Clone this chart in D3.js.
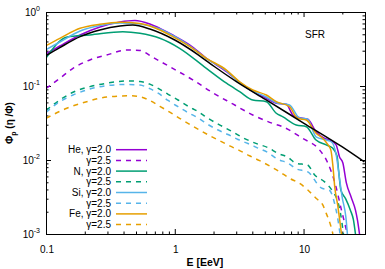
<!DOCTYPE html>
<html>
<head>
<meta charset="utf-8">
<script src="https://cdn.jsdelivr.net/npm/d3@7"></script>
<style>
body{margin:0;background:#fff}
svg text{font-family:"Liberation Sans",Arial,sans-serif;fill:#000}
</style>
</head>
<body>
<svg id="chart"></svg>
<script>

// [E in EeV, flux] pairs
var heG20 = [[0.1,0.271],[0.128,0.347],[0.184,0.489],[0.262,0.627],[0.375,0.733],[0.49,0.768],[0.64,0.689],[0.766,0.602],[0.964,0.489],[1.31,0.358],[1.76,0.237],[2.52,0.156],[3.19,0.112],[4.05,0.0838],[5.14,0.0682],[6.14,0.0584],[7.34,0.0566],[8.26,0.0406],[9.04,0.0378],[10.8,0.0355],[12.5,0.0241],[14.6,0.0196],[15.9,0.0186],[17.9,0.016],[19.0,0.0111],[20.2,0.0091],[21.5,0.0049],[23.4,0.00316],[25.3,0.0021],[26.2,0.00155],[27.2,0.001]]
var heG25 = [[0.1,0.0925],[0.128,0.127],[0.162,0.173],[0.219,0.225],[0.296,0.262],[0.423,0.306],[0.536,0.302],[0.675,0.244],[0.964,0.173],[1.38,0.121],[1.97,0.0812],[2.82,0.0572],[4.03,0.0406],[5.75,0.0313],[6.87,0.0282],[9.82,0.0196],[13.3,0.0137],[15.3,0.0094],[17.7,0.0046],[19.7,0.0021],[21.9,0.001]]
var nG20 = [[0.1,0.239],[0.146,0.459],[0.219,0.489],[0.395,0.542],[0.536,0.516],[0.766,0.441],[1.09,0.323],[1.76,0.173],[2.52,0.109],[3.19,0.0838],[4.03,0.0647],[5.14,0.0614],[6.14,0.0428],[6.87,0.0385],[8.77,0.0297],[10.5,0.0282],[12.5,0.0186],[15.0,0.016],[16.8,0.0145],[18.2,0.0113],[18.7,0.0073],[19.5,0.0039],[21.2,0.003],[23.1,0.0021],[24.4,0.00155],[25.3,0.001]]
var nG25 = [[0.1,0.0467],[0.128,0.0647],[0.162,0.0822],[0.219,0.098],[0.296,0.109],[0.423,0.117],[0.536,0.115],[0.64,0.106],[0.743,0.093],[0.887,0.0773],[1.06,0.0647],[1.27,0.0532],[1.52,0.045],[1.81,0.0366],[2.17,0.0306],[2.59,0.026],[3.59,0.019],[4.42,0.0164],[5.29,0.0147],[6.32,0.0123],[7.55,0.0109],[8.77,0.009],[10.7,0.0086],[12.2,0.00627],[14.5,0.0051],[16.9,0.00373],[18.5,0.0027],[19.4,0.00186],[20.4,0.001]]
var siG20 = [[0.1,0.31],[0.128,0.393],[0.184,0.554],[0.262,0.657],[0.375,0.71],[0.536,0.689],[0.766,0.589],[0.964,0.481],[1.31,0.347],[1.76,0.235],[2.52,0.16],[3.19,0.111],[4.03,0.0856],[5.14,0.071],[6.14,0.0595],[7.78,0.0554],[9.3,0.037],[10.7,0.0358],[12.5,0.0206],[15.0,0.0186],[16.5,0.0175],[18.0,0.0113],[19.0,0.0057],[20.0,0.00306],[21.3,0.0017],[21.9,0.001]]
var siG25 = [[0.1,0.0441],[0.128,0.0614],[0.162,0.0755],[0.219,0.091],[0.296,0.101],[0.423,0.105],[0.536,0.103],[0.64,0.092],[0.743,0.08],[0.887,0.0637],[1.06,0.0525],[1.27,0.0436],[1.52,0.037],[1.81,0.0302],[2.17,0.0254],[2.59,0.0221],[3.1,0.0189],[3.7,0.0167],[4.42,0.0145],[5.29,0.0126],[6.32,0.0102],[7.55,0.0091],[8.77,0.0076],[10.8,0.0069],[13.7,0.0042],[15.9,0.0039],[17.4,0.0026],[18.5,0.00155],[19.2,0.001]]
var feG20 = [[0.1,0.351],[0.128,0.441],[0.184,0.602],[0.262,0.682],[0.375,0.726],[0.536,0.699],[0.766,0.571],[0.964,0.464],[1.31,0.34],[1.76,0.237],[2.52,0.164],[3.19,0.114],[4.03,0.0883],[5.14,0.0755],[6.14,0.0614],[7.78,0.0525],[8.97,0.0366],[10.5,0.0347],[12.5,0.023],[14.0,0.0198],[15.3,0.0165],[16.3,0.0136],[16.9,0.0083],[17.5,0.0042],[18.4,0.00247],[19.0,0.00164],[19.7,0.001]]
var feG25 = [[0.1,0.0366],[0.145,0.05],[0.207,0.0614],[0.296,0.071],[0.448,0.0737],[0.536,0.0717],[0.64,0.0637],[0.766,0.0532],[0.914,0.0443],[1.09,0.0366],[1.31,0.0302],[1.56,0.0254],[1.87,0.0213],[2.23,0.0182],[2.67,0.0155],[3.19,0.0134],[3.81,0.0114],[4.56,0.0098],[5.45,0.0083],[6.51,0.00695],[7.78,0.00566],[9.3,0.00484],[10.8,0.00393],[12.5,0.00304],[14.1,0.00247],[15.0,0.0019],[16.2,0.00132],[16.9,0.001]]
var sfrRef = [[0.1,0.257],[0.128,0.33],[0.184,0.464],[0.262,0.571],[0.375,0.647],[0.472,0.667],[0.64,0.589],[1.0,0.418],[1.53,0.262],[2.04,0.182],[3.05,0.113],[5.05,0.066],[10,0.0316],[20,0.015],[29.7,0.0094]]

var legendLabels = ["He, γ=2.0","γ=2.5","N, γ=2.0","γ=2.5","Si, γ=2.0","γ=2.5","Fe, γ=2.0","γ=2.5"]
var xMajor = [0.1, 1, 10]
var yMajor = [0.001, 0.01, 0.1, 1]
var yExp = ["-3","-2","-1","0"]

var width = 385
var height = 269

var svg = d3.select('#chart')
            .attr('width', width)
            .attr('height', height)

var x = d3.scaleLog().domain([0.1, 30]).range([46, 365])
var y = d3.scaleLog().domain([0.001, 1]).range([234, 12])

// minor tick values for the log axes
var xMinor = []
var yMinor = []
;[0.1, 1, 10].forEach(function(b){
  for (var k = 2; k <= 9; k++){ if (b*k <= 30) xMinor.push(b*k) }
})
;[0.001, 0.01, 0.1].forEach(function(b){
  for (var k = 2; k <= 9; k++){ yMinor.push(b*k) }
})

var series = [
  {data: heG20, color: "#9400d3", dash: null},
  {data: heG25, color: "#9400d3", dash: "5,5"},
  {data: nG20,  color: "#009e73", dash: null},
  {data: nG25,  color: "#009e73", dash: "5,5"},
  {data: siG20, color: "#56b4e9", dash: null},
  {data: siG25, color: "#56b4e9", dash: "5,5"},
  {data: feG20, color: "#e69f00", dash: null},
  {data: feG25, color: "#e69f00", dash: "5,5"}
]

svg.append('defs').append('clipPath').attr('id','clip')
   .append('rect').attr('x',46).attr('y',12).attr('width',319).attr('height',222)

// axes: ticks point inward on all four sides
function addAxis(axis, tr){
  var g = svg.append('g').attr('transform', tr).call(axis)
  g.select('.domain').remove()
  g.selectAll('line').attr('stroke','#000')
  return g
}
addAxis(d3.axisBottom(x).tickValues(xMajor).tickSize(-5).tickFormat(''), 'translate(0,234)')
addAxis(d3.axisBottom(x).tickValues(xMinor).tickSize(-2.5).tickFormat(''), 'translate(0,234)')
addAxis(d3.axisTop(x).tickValues(xMajor).tickSize(-5).tickFormat(''), 'translate(0,12)')
addAxis(d3.axisTop(x).tickValues(xMinor).tickSize(-2.5).tickFormat(''), 'translate(0,12)')
addAxis(d3.axisLeft(y).tickValues(yMajor).tickSize(-5).tickFormat(''), 'translate(46,0)')
addAxis(d3.axisLeft(y).tickValues(yMinor).tickSize(-2.5).tickFormat(''), 'translate(46,0)')
addAxis(d3.axisRight(y).tickValues(yMajor).tickSize(-5).tickFormat(''), 'translate(365,0)')
addAxis(d3.axisRight(y).tickValues(yMinor).tickSize(-2.5).tickFormat(''), 'translate(365,0)')

// tick labels
svg.append('g').selectAll('text').data(xMajor).enter().append('text')
   .attr('x', function(d){ return x(d) + 1 })
   .attr('y', 253)
   .attr('text-anchor','middle')
   .attr('font-size', 10)
   .text(function(d){ return d })

var yl = svg.append('g').selectAll('text').data(yMajor).enter().append('text')
   .attr('x', 40)
   .attr('y', function(d){ return y(d) + 3.5 })
   .attr('text-anchor','end')
   .attr('font-size', 10)
yl.append('tspan').text('10')
yl.append('tspan').attr('dy', -4.5).attr('font-size', 7)
  .text(function(d,i){ return yExp[i] })

// curves
var line = d3.line()
             .x(function(d){ return x(d[0]) })
             .y(function(d){ return y(d[1]) })
             .curve(d3.curveMonotoneX)

var plot = svg.append('g').attr('clip-path','url(#clip)')

series.forEach(function(s){
  plot.append('path')
      .attr('d', line(s.data))
      .attr('fill','none')
      .attr('stroke', s.color)
      .attr('stroke-width', 1.5)
      .attr('stroke-dasharray', s.dash)
})

plot.append('path')
    .attr('d', line(sfrRef))
    .attr('fill','none')
    .attr('stroke','#000')
    .attr('stroke-width', 1.5)

// frame
svg.append('rect')
   .attr('x', 46.5).attr('y', 12.5)
   .attr('width', 319).attr('height', 222)
   .attr('fill','none').attr('stroke','#000').attr('stroke-width',1)

// legend
var leg = svg.append('g')
series.forEach(function(s,i){
  var ly = 149.7 + i*10.7
  leg.append('text')
     .attr('x', 111).attr('y', ly + 3.5)
     .attr('text-anchor','end')
     .attr('font-size', 10)
     .text(legendLabels[i])
  leg.append('line')
     .attr('x1', 116).attr('x2', 147)
     .attr('y1', ly).attr('y2', ly)
     .attr('stroke', s.color)
     .attr('stroke-width', 1.5)
     .attr('stroke-dasharray', s.dash)
})

svg.append('text')
   .attr('x', 315).attr('y', 38)
   .attr('text-anchor','middle')
   .attr('font-size', 10)
   .text('SFR')

// axis titles
svg.append('text')
   .attr('x', 205).attr('y', 266)
   .attr('text-anchor','middle')
   .attr('font-size', 10.5)
   .attr('font-weight','bold')
   .text('E [EeV]')

var yt = svg.append('text')
   .attr('transform','translate(13,123) rotate(-90)')
   .attr('text-anchor','middle')
   .attr('font-size', 10)
   .attr('font-weight','bold')
yt.append('tspan').text('Φ')
yt.append('tspan').attr('font-size', 7).attr('dy', 2.5).text('p')
yt.append('tspan').attr('dy', -2.5).text(' (η /Φ)')

</script>
</body>
</html>
